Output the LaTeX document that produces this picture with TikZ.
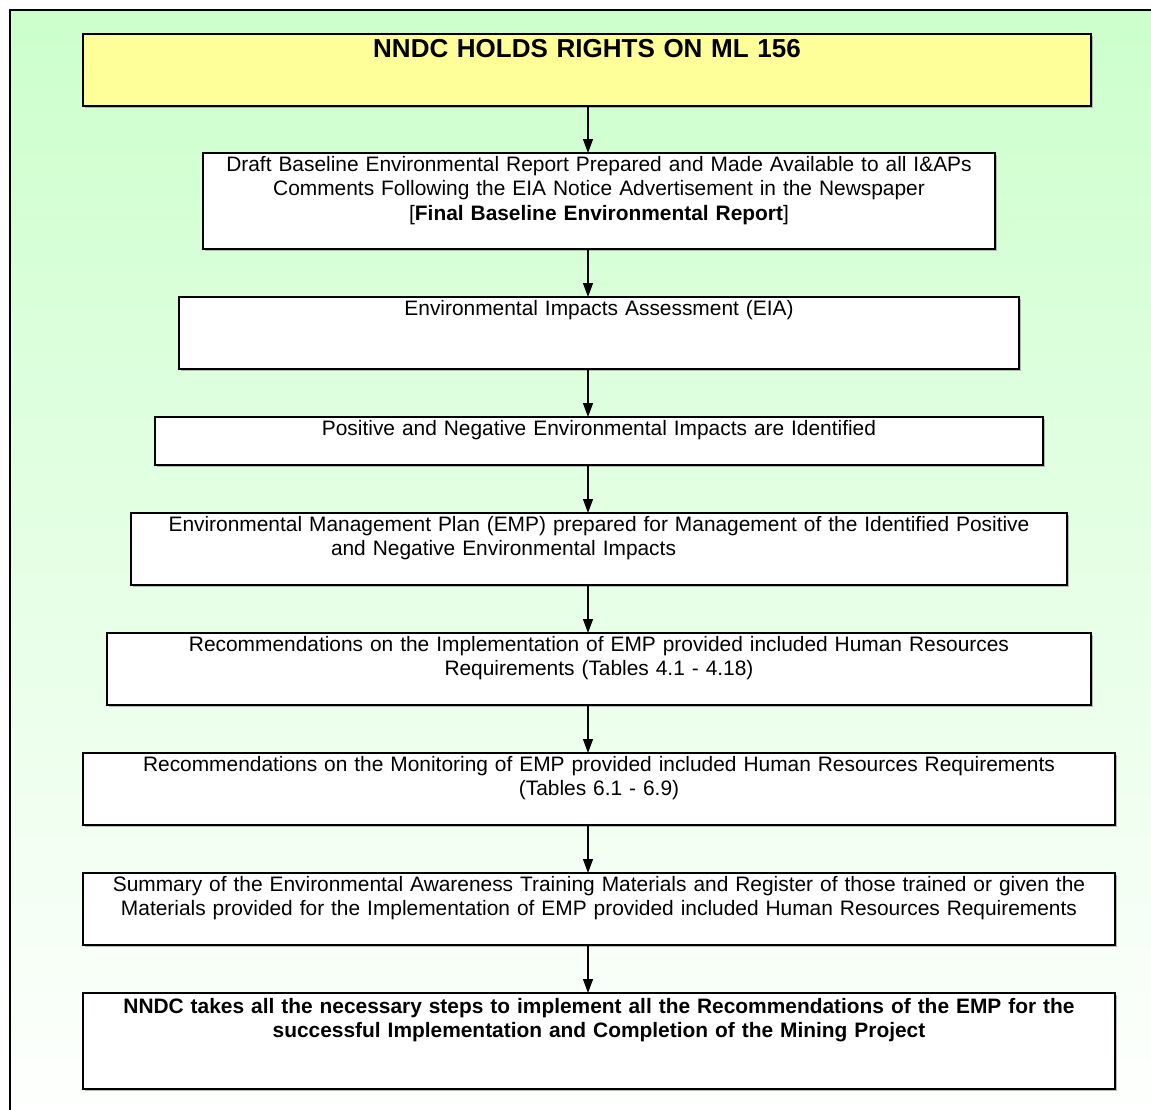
\documentclass[tikz,border=0pt]{standalone}
\usepackage{fontspec}
\setmainfont{Liberation Sans}
\usetikzlibrary{arrows.meta,positioning,shadows}

\definecolor{paleGreen}{HTML}{CCFFCC}
\definecolor{titleYellow}{HTML}{FFFF99}

\begin{document}
\begin{tikzpicture}[
  x=1pt, y=1pt,
  node distance=48pt,
  stepbox/.style 2 args={rectangle, draw, line width=2pt, fill=white,
    drop shadow={shadow xshift=1.5pt, shadow yshift=-1.5pt, fill=black!45, opacity=.6},
    inner sep=0pt, outer sep=0pt, align=center, text width=#1, text height=18pt, text depth=#2,
    font=\fontsize{20.9}{24.5}\selectfont},
  flow/.style={line width=1.2pt, -{Triangle[width=10pt,length=14pt]}}
  ]
  \useasboundingbox (0,0) rectangle (1151,-1109);
  \path[draw, line width=2.5pt, top color=paleGreen, bottom color=white]
    (10,-10) rectangle (1175,-1135);
  \coordinate (spine) at (588,0);

  \node[stepbox={1008pt}{49pt}, fill=titleYellow, text height=23pt, line width=2.5pt,
    font=\fontsize{26}{30}\selectfont\bfseries, anchor=north] (rights) at (587,-34)
    {NNDC HOLDS RIGHTS ON ML 156};
  \node[stepbox={792pt}{78pt}, below=47pt of rights, xshift=12pt] (baseline)
    {Draft Baseline Environmental Report Prepared and Made Available to all I\&APs\\
     Comments Following the EIA Notice Advertisement in the Newspaper\\
     {[}\textbf{Final Baseline Environmental Report}{]}};
  \node[stepbox={840pt}{54pt}, below=of baseline] (eia)
    {Environmental Impacts Assessment (EIA)};
  \node[stepbox={888pt}{30pt}, below=of eia] (impacts)
    {Positive and Negative Environmental Impacts are Identified};
  \node[stepbox={936pt}{54pt}, below=of impacts] (emp)
    {Environmental Management Plan (EMP) prepared for Management of the Identified Positive\\
     \makebox[536pt][l]{and Negative Environmental Impacts}};
  \node[stepbox={984pt}{54pt}, below=of emp] (implement)
    {Recommendations on the Implementation of EMP provided included Human Resources\\
     Requirements (Tables 4.1 - 4.18)};
  \node[stepbox={1032pt}{54pt}, below=of implement] (monitor)
    {Recommendations on the Monitoring of EMP provided included Human Resources Requirements\\
     (Tables 6.1 - 6.9)};
  \node[stepbox={1032pt}{54pt}, below=of monitor] (training)
    {Summary of the Environmental Awareness Training Materials and Register of those trained or given the\\
     Materials provided for the Implementation of EMP provided included Human Resources Requirements};
  \node[stepbox={1032pt}{76pt}, below=of training, text height=20pt,
    font=\fontsize{20.9}{24.5}\selectfont\bfseries] (steps)
    {NNDC takes all the necessary steps to implement all the Recommendations of the EMP for the\\
     successful Implementation and Completion of the Mining Project};

  \foreach \from/\to in {rights/baseline, baseline/eia, eia/impacts, impacts/emp,
      emp/implement, implement/monitor, monitor/training, training/steps}
    \draw[flow] (spine |- \from.south) -- (spine |- \to.north);
\end{tikzpicture}
\end{document}
